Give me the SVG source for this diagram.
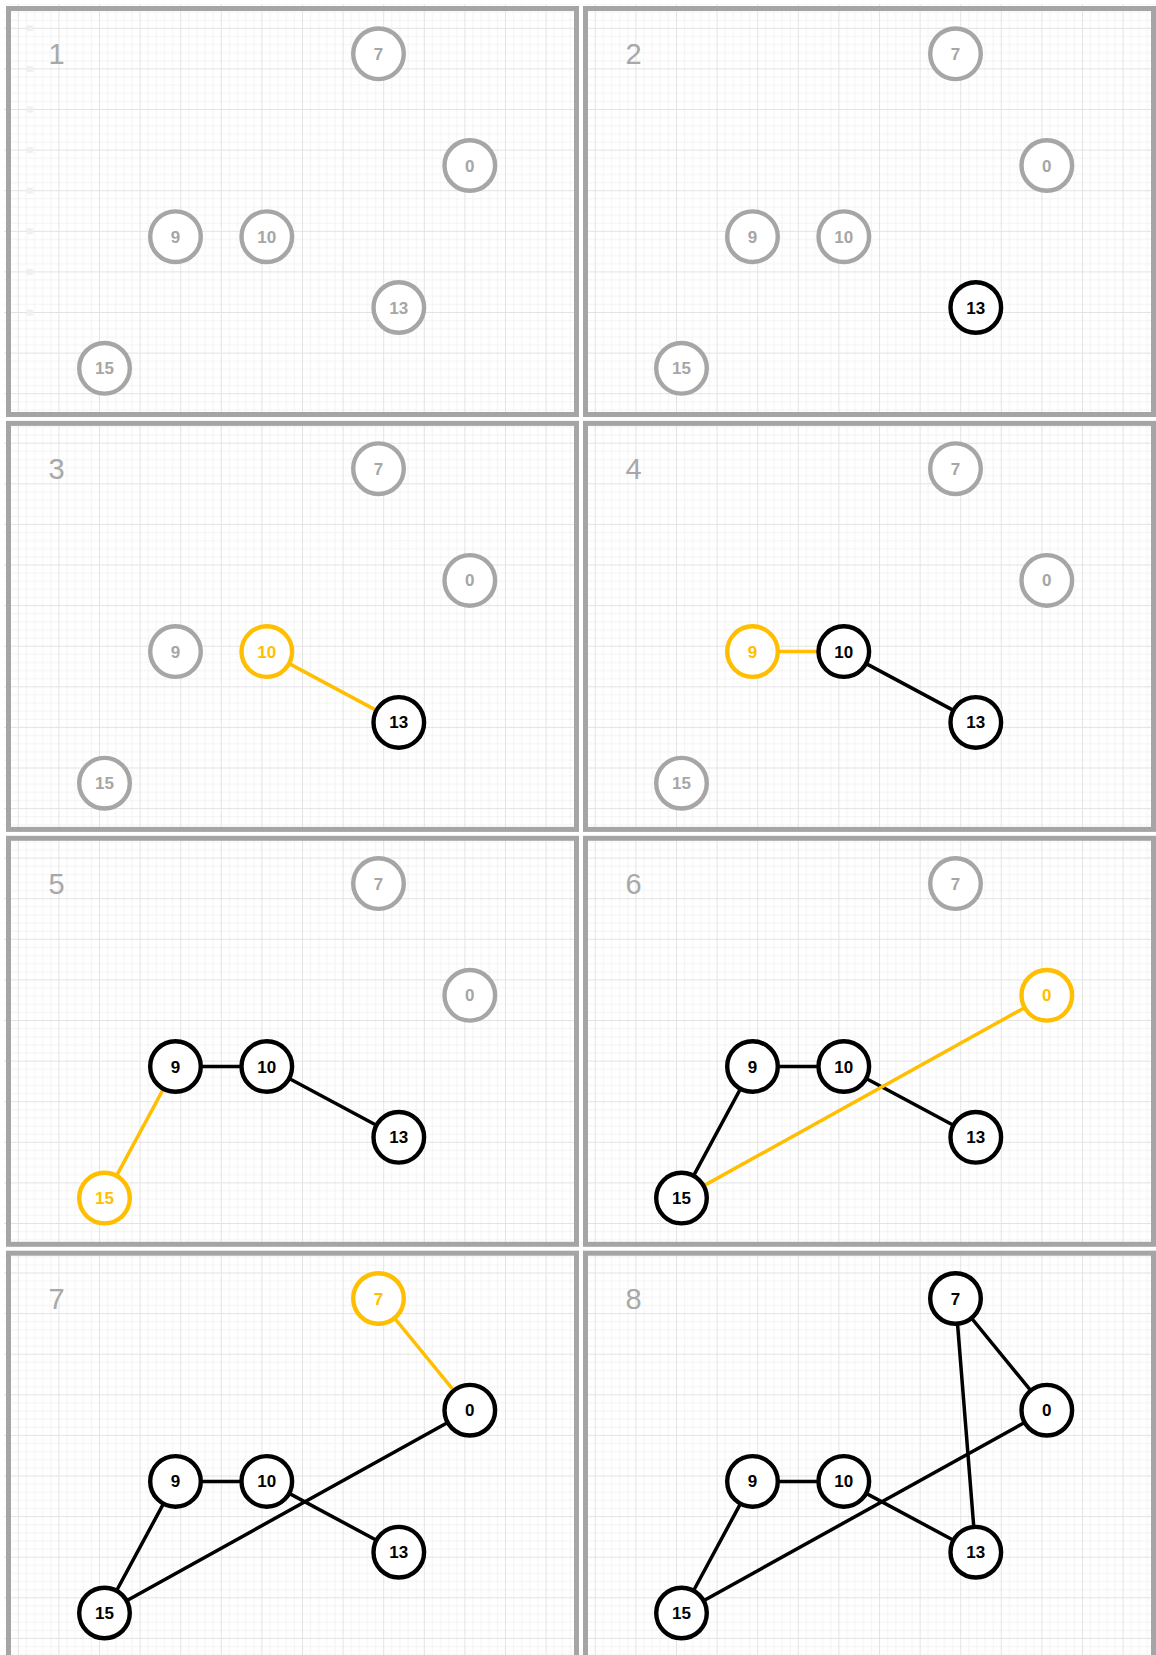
<svg xmlns="http://www.w3.org/2000/svg" width="1156" height="1655" viewBox="0 0 1156 1655">
<defs>
<style>
.panel{fill:none;stroke:#a5a5a5;stroke-width:5}
.plabel{font-family:"Liberation Sans",Arial,sans-serif;font-size:29px;fill:#a8a8a8}
.node circle{fill:#fff;stroke-width:4.4}
.node text{font-family:"Liberation Sans",Arial,sans-serif;font-size:17px;font-weight:bold;text-anchor:middle}
.g circle{stroke:#a6a6a6}.g text{fill:#a6a6a6}
.b circle{stroke:#000}.b text{fill:#000}
.y circle{stroke:#ffbe00}.y text{fill:#ffbe00}
.e{stroke-width:3.5;stroke-linecap:round;fill:none}
.eb{stroke:#000}.ey{stroke:#ffbe00}
.mark{fill:#f0f0f0}
</style>
<pattern id="grid" patternUnits="userSpaceOnUse" x="9.3" y="19.3" width="40.6" height="40.6">
<rect x="8.12" y="0" width="1" height="40.6" fill="#f3f3f3"/>
<rect x="16.24" y="0" width="1" height="40.6" fill="#f3f3f3"/>
<rect x="24.36" y="0" width="1" height="40.6" fill="#f3f3f3"/>
<rect x="32.48" y="0" width="1" height="40.6" fill="#f3f3f3"/>
<rect x="0" y="8.12" width="40.6" height="1" fill="#f3f3f3"/>
<rect x="0" y="16.24" width="40.6" height="1" fill="#f3f3f3"/>
<rect x="0" y="24.36" width="40.6" height="1" fill="#f3f3f3"/>
<rect x="0" y="32.48" width="40.6" height="1" fill="#f3f3f3"/>
<rect x="0" y="0" width="1" height="40.6" fill="#e3e3e3"/>
<rect x="0" y="0" width="40.6" height="1" fill="#e3e3e3"/>
</pattern>
</defs>
<rect width="1156" height="1655" fill="#fff"/>

<!-- Panel 1 -->
<g id="panel1" transform="translate(8.5,8.5)">
<rect x="-4.5" y="-4.5" width="575" height="413" fill="url(#grid)"/>
<g id="p1-marks">
<rect class="mark" x="18.5" y="16.8" width="6" height="6"/>
<rect class="mark" x="18.5" y="57.4" width="6" height="6"/>
<rect class="mark" x="18.5" y="98" width="6" height="6"/>
<rect class="mark" x="18.5" y="138.6" width="6" height="6"/>
<rect class="mark" x="18.5" y="179.2" width="6" height="6"/>
<rect class="mark" x="18.5" y="219.8" width="6" height="6"/>
<rect class="mark" x="18.5" y="260.4" width="6" height="6"/>
<rect class="mark" x="18.5" y="301" width="6" height="6"/>
</g>
<rect class="panel" x="0" y="0" width="568" height="406"/>
<text class="plabel" x="40" y="55.8">1</text>
<g id="p1-connectors"></g>
<g id="p1-n7" class="node g"><circle cx="370" cy="45.3" r="25.3"/><text x="370" y="51.4">7</text></g>
<g id="p1-n0" class="node g"><circle cx="461.3" cy="157" r="25.3"/><text x="461.3" y="163.1">0</text></g>
<g id="p1-n9" class="node g"><circle cx="167" cy="228.2" r="25.3"/><text x="167" y="234.3">9</text></g>
<g id="p1-n10" class="node g"><circle cx="258.3" cy="228.2" r="25.3"/><text x="258.3" y="234.3">10</text></g>
<g id="p1-n13" class="node g"><circle cx="390.3" cy="299" r="25.3"/><text x="390.3" y="305.1">13</text></g>
<g id="p1-n15" class="node g"><circle cx="96" cy="359.8" r="25.3"/><text x="96" y="365.9">15</text></g>
</g>

<!-- Panel 2 -->
<g id="panel2" transform="translate(585.5,8.5)">
<rect x="-2.5" y="-4.5" width="573" height="413" fill="url(#grid)"/>
<rect class="panel" x="0" y="0" width="568" height="406"/>
<text class="plabel" x="40" y="55.8">2</text>
<g id="p2-connectors"></g>
<g id="p2-n7" class="node g"><circle cx="370" cy="45.3" r="25.3"/><text x="370" y="51.4">7</text></g>
<g id="p2-n0" class="node g"><circle cx="461.3" cy="157" r="25.3"/><text x="461.3" y="163.1">0</text></g>
<g id="p2-n9" class="node g"><circle cx="167" cy="228.2" r="25.3"/><text x="167" y="234.3">9</text></g>
<g id="p2-n10" class="node g"><circle cx="258.3" cy="228.2" r="25.3"/><text x="258.3" y="234.3">10</text></g>
<g id="p2-n13" class="node b"><circle cx="390.3" cy="299" r="25.3"/><text x="390.3" y="305.1">13</text></g>
<g id="p2-n15" class="node g"><circle cx="96" cy="359.8" r="25.3"/><text x="96" y="365.9">15</text></g>
</g>

<!-- Panel 3 -->
<g id="panel3" transform="translate(8.5,423.4)">
<rect x="-4.5" y="-2.5" width="575" height="411" fill="url(#grid)"/>
<rect class="panel" x="0" y="0" width="568" height="406"/>
<text class="plabel" x="40" y="55.8">3</text>
<g id="p3-connectors">
<line class="e ey" x1="258.3" y1="228.2" x2="390.3" y2="299"/>
</g>
<g id="p3-n7" class="node g"><circle cx="370" cy="45.3" r="25.3"/><text x="370" y="51.4">7</text></g>
<g id="p3-n0" class="node g"><circle cx="461.3" cy="157" r="25.3"/><text x="461.3" y="163.1">0</text></g>
<g id="p3-n9" class="node g"><circle cx="167" cy="228.2" r="25.3"/><text x="167" y="234.3">9</text></g>
<g id="p3-n10" class="node y"><circle cx="258.3" cy="228.2" r="25.3"/><text x="258.3" y="234.3">10</text></g>
<g id="p3-n13" class="node b"><circle cx="390.3" cy="299" r="25.3"/><text x="390.3" y="305.1">13</text></g>
<g id="p3-n15" class="node g"><circle cx="96" cy="359.8" r="25.3"/><text x="96" y="365.9">15</text></g>
</g>

<!-- Panel 4 -->
<g id="panel4" transform="translate(585.5,423.4)">
<rect x="-2.5" y="-2.5" width="573" height="411" fill="url(#grid)"/>
<rect class="panel" x="0" y="0" width="568" height="406"/>
<text class="plabel" x="40" y="55.8">4</text>
<g id="p4-connectors">
<line class="e eb" x1="258.3" y1="228.2" x2="390.3" y2="299"/>
<line class="e ey" x1="167" y1="228.2" x2="258.3" y2="228.2"/>
</g>
<g id="p4-n7" class="node g"><circle cx="370" cy="45.3" r="25.3"/><text x="370" y="51.4">7</text></g>
<g id="p4-n0" class="node g"><circle cx="461.3" cy="157" r="25.3"/><text x="461.3" y="163.1">0</text></g>
<g id="p4-n9" class="node y"><circle cx="167" cy="228.2" r="25.3"/><text x="167" y="234.3">9</text></g>
<g id="p4-n10" class="node b"><circle cx="258.3" cy="228.2" r="25.3"/><text x="258.3" y="234.3">10</text></g>
<g id="p4-n13" class="node b"><circle cx="390.3" cy="299" r="25.3"/><text x="390.3" y="305.1">13</text></g>
<g id="p4-n15" class="node g"><circle cx="96" cy="359.8" r="25.3"/><text x="96" y="365.9">15</text></g>
</g>

<!-- Panel 5 -->
<g id="panel5" transform="translate(8.5,838.3)">
<rect x="-4.5" y="-2.5" width="575" height="411" fill="url(#grid)"/>
<rect class="panel" x="0" y="0" width="568" height="406"/>
<text class="plabel" x="40" y="55.8">5</text>
<g id="p5-connectors">
<line class="e eb" x1="258.3" y1="228.2" x2="390.3" y2="299"/>
<line class="e eb" x1="167" y1="228.2" x2="258.3" y2="228.2"/>
<line class="e ey" x1="167" y1="228.2" x2="96" y2="359.8"/>
</g>
<g id="p5-n7" class="node g"><circle cx="370" cy="45.3" r="25.3"/><text x="370" y="51.4">7</text></g>
<g id="p5-n0" class="node g"><circle cx="461.3" cy="157" r="25.3"/><text x="461.3" y="163.1">0</text></g>
<g id="p5-n9" class="node b"><circle cx="167" cy="228.2" r="25.3"/><text x="167" y="234.3">9</text></g>
<g id="p5-n10" class="node b"><circle cx="258.3" cy="228.2" r="25.3"/><text x="258.3" y="234.3">10</text></g>
<g id="p5-n13" class="node b"><circle cx="390.3" cy="299" r="25.3"/><text x="390.3" y="305.1">13</text></g>
<g id="p5-n15" class="node y"><circle cx="96" cy="359.8" r="25.3"/><text x="96" y="365.9">15</text></g>
</g>

<!-- Panel 6 -->
<g id="panel6" transform="translate(585.5,838.3)">
<rect x="-2.5" y="-2.5" width="573" height="411" fill="url(#grid)"/>
<rect class="panel" x="0" y="0" width="568" height="406"/>
<text class="plabel" x="40" y="55.8">6</text>
<g id="p6-connectors">
<line class="e eb" x1="258.3" y1="228.2" x2="390.3" y2="299"/>
<line class="e eb" x1="167" y1="228.2" x2="258.3" y2="228.2"/>
<line class="e eb" x1="167" y1="228.2" x2="96" y2="359.8"/>
<line class="e ey" x1="96" y1="359.8" x2="461.3" y2="157"/>
</g>
<g id="p6-n7" class="node g"><circle cx="370" cy="45.3" r="25.3"/><text x="370" y="51.4">7</text></g>
<g id="p6-n0" class="node y"><circle cx="461.3" cy="157" r="25.3"/><text x="461.3" y="163.1">0</text></g>
<g id="p6-n9" class="node b"><circle cx="167" cy="228.2" r="25.3"/><text x="167" y="234.3">9</text></g>
<g id="p6-n10" class="node b"><circle cx="258.3" cy="228.2" r="25.3"/><text x="258.3" y="234.3">10</text></g>
<g id="p6-n13" class="node b"><circle cx="390.3" cy="299" r="25.3"/><text x="390.3" y="305.1">13</text></g>
<g id="p6-n15" class="node b"><circle cx="96" cy="359.8" r="25.3"/><text x="96" y="365.9">15</text></g>
</g>

<!-- Panel 7 -->
<g id="panel7" transform="translate(8.5,1253.2)">
<rect x="-4.5" y="-2.5" width="575" height="411" fill="url(#grid)"/>
<rect class="panel" x="0" y="0" width="568" height="406"/>
<text class="plabel" x="40" y="55.8">7</text>
<g id="p7-connectors">
<line class="e eb" x1="258.3" y1="228.2" x2="390.3" y2="299"/>
<line class="e eb" x1="167" y1="228.2" x2="258.3" y2="228.2"/>
<line class="e eb" x1="167" y1="228.2" x2="96" y2="359.8"/>
<line class="e eb" x1="96" y1="359.8" x2="461.3" y2="157"/>
<line class="e ey" x1="370" y1="45.3" x2="461.3" y2="157"/>
</g>
<g id="p7-n7" class="node y"><circle cx="370" cy="45.3" r="25.3"/><text x="370" y="51.4">7</text></g>
<g id="p7-n0" class="node b"><circle cx="461.3" cy="157" r="25.3"/><text x="461.3" y="163.1">0</text></g>
<g id="p7-n9" class="node b"><circle cx="167" cy="228.2" r="25.3"/><text x="167" y="234.3">9</text></g>
<g id="p7-n10" class="node b"><circle cx="258.3" cy="228.2" r="25.3"/><text x="258.3" y="234.3">10</text></g>
<g id="p7-n13" class="node b"><circle cx="390.3" cy="299" r="25.3"/><text x="390.3" y="305.1">13</text></g>
<g id="p7-n15" class="node b"><circle cx="96" cy="359.8" r="25.3"/><text x="96" y="365.9">15</text></g>
</g>

<!-- Panel 8 -->
<g id="panel8" transform="translate(585.5,1253.2)">
<rect x="-2.5" y="-2.5" width="573" height="411" fill="url(#grid)"/>
<rect class="panel" x="0" y="0" width="568" height="406"/>
<text class="plabel" x="40" y="55.8">8</text>
<g id="p8-connectors">
<line class="e eb" x1="258.3" y1="228.2" x2="390.3" y2="299"/>
<line class="e eb" x1="167" y1="228.2" x2="258.3" y2="228.2"/>
<line class="e eb" x1="167" y1="228.2" x2="96" y2="359.8"/>
<line class="e eb" x1="96" y1="359.8" x2="461.3" y2="157"/>
<line class="e eb" x1="370" y1="45.3" x2="461.3" y2="157"/>
<line class="e eb" x1="370" y1="45.3" x2="390.3" y2="299"/>
</g>
<g id="p8-n7" class="node b"><circle cx="370" cy="45.3" r="25.3"/><text x="370" y="51.4">7</text></g>
<g id="p8-n0" class="node b"><circle cx="461.3" cy="157" r="25.3"/><text x="461.3" y="163.1">0</text></g>
<g id="p8-n9" class="node b"><circle cx="167" cy="228.2" r="25.3"/><text x="167" y="234.3">9</text></g>
<g id="p8-n10" class="node b"><circle cx="258.3" cy="228.2" r="25.3"/><text x="258.3" y="234.3">10</text></g>
<g id="p8-n13" class="node b"><circle cx="390.3" cy="299" r="25.3"/><text x="390.3" y="305.1">13</text></g>
<g id="p8-n15" class="node b"><circle cx="96" cy="359.8" r="25.3"/><text x="96" y="365.9">15</text></g>
</g>
</svg>
